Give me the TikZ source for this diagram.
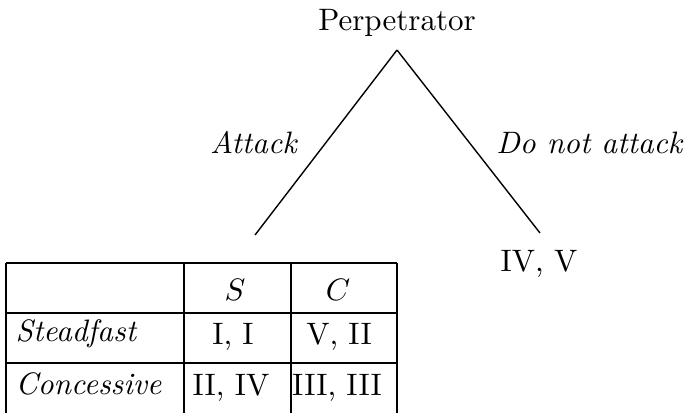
\documentclass[tikz,border=0pt]{standalone}
\begin{document}
\begin{tikzpicture}[x=0.3226pt,y=-0.3226pt,
  txt/.style={inner sep=0pt,anchor=base},
  ltxt/.style={inner sep=0pt,anchor=base west},
  edge/.style={line width=0.45pt},
  grid/.style={line width=0.45pt}]
\useasboundingbox (0,0) rectangle (685,412);
% tree
\node[txt] (perp) at (397,30) {Perpetrator};
\coordinate (root) at (397,50);
\coordinate (attackend) at (255,235);
\coordinate (notend) at (540,233);
\draw[edge] (root) -- (attackend);
\draw[edge] (root) -- (notend);
\node[txt] (att) at (254,153) {\textit{Attack}};
\node[txt] (dna) at (590,153) {\textit{Do not attack}};
\node[txt] (ivv) at (539,271) {IV, V};
% table grid (cut off at the bottom edge)
\draw[grid] (6,263) -- (397,263);
\draw[grid] (6,313) -- (397,313);
\draw[grid] (6,363) -- (397,363);
\draw[grid] (6,263) -- (6,413);
\draw[grid] (184,263) -- (184,413);
\draw[grid] (291,263) -- (291,413);
\draw[grid] (397,263) -- (397,413);
% table text
\node[txt] (hs) at (235,300) {$S$};
\node[txt] (hc) at (338,300) {$C$};
\node[ltxt] (rs) at (15,341) {\textit{Steadfast}};
\node[txt] (ss) at (233,344) {I, I};
\node[txt] (sc) at (339,344) {V, II};
\node[ltxt] (rc) at (15,394) {\textit{Concessive}};
\node[txt] (cs) at (231,395) {II, IV};
\node[txt] (cc) at (337,395) {III, III};
\end{tikzpicture}
\end{document}
